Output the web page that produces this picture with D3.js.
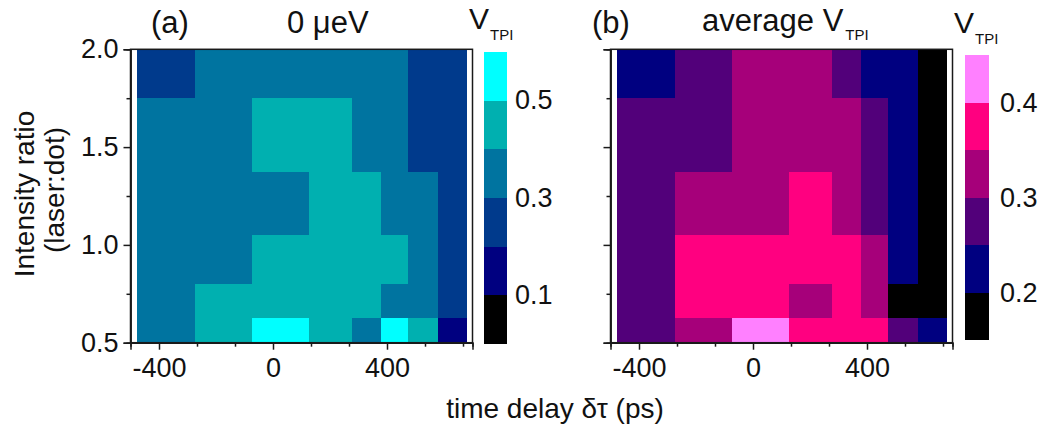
<!DOCTYPE html>
<html>
<head>
<meta charset="utf-8">
<script src="https://cdn.jsdelivr.net/npm/d3@7"></script>
<style>
  html, body { margin: 0; padding: 0; background: #fff; }
  svg { display: block; }
  text { font-family: "Liberation Sans", Arial, sans-serif; fill: #111; }
</style>
</head>
<body>
<svg id="chart" width="1045" height="427"></svg>
<script>
// ---- data ----
// time-delay bin edges (ps), shared by both panels
const delayEdges = [-478, -275, -72, 128, 276, 378, 475, 578, 680];
// intensity-ratio bin edges (laser:dot)
const ratioEdges = [0.5, 0.625, 0.8, 1.05, 1.375, 1.75, 2.0];

// panel (a) "0 µeV": rows listed from top (ratio 1.75–2.0) to bottom (0.5–0.625)
const vtpiZero = [
  [0.25, 0.35, 0.35, 0.35, 0.35, 0.35, 0.25, 0.25],
  [0.35, 0.35, 0.45, 0.45, 0.35, 0.35, 0.25, 0.25],
  [0.35, 0.35, 0.35, 0.45, 0.45, 0.35, 0.35, 0.25],
  [0.35, 0.35, 0.45, 0.45, 0.45, 0.45, 0.35, 0.25],
  [0.35, 0.45, 0.45, 0.45, 0.45, 0.35, 0.35, 0.25],
  [0.35, 0.45, 0.55, 0.45, 0.35, 0.55, 0.45, 0.15]
];
// panel (b) "average V_TPI"
const vtpiAverage = [
  [0.225, 0.275, 0.325, 0.325, 0.275, 0.225, 0.225, 0.175],
  [0.275, 0.275, 0.325, 0.325, 0.325, 0.275, 0.225, 0.175],
  [0.275, 0.325, 0.325, 0.375, 0.325, 0.275, 0.225, 0.175],
  [0.275, 0.375, 0.375, 0.375, 0.375, 0.325, 0.225, 0.175],
  [0.275, 0.375, 0.375, 0.325, 0.375, 0.325, 0.175, 0.175],
  [0.275, 0.325, 0.425, 0.375, 0.375, 0.375, 0.275, 0.225]
];

// colour bins
const binsA = [0.0, 0.1, 0.2, 0.3, 0.4, 0.5, 0.6];
const colorsA = ["#000000", "#000080", "#003a8c", "#0074a0", "#00b0b0", "#00ffff"];
const binsB = [0.15, 0.2, 0.25, 0.3, 0.35, 0.4, 0.45];
const colorsB = ["#000000", "#000080", "#52007a", "#a6007a", "#ff0080", "#ff80ff"];

// tick values
const xMajorTicks = [-400, 0, 400];
const xMinorTicks = [-266.67, -133.33, 133.33, 266.67, 533.33, 666.67];
const yMajorTicks = [0.5, 1.0, 1.5, 2.0];
const yMinorTicks = [0.75, 1.25, 1.75];
const cbTicksA = [0.1, 0.3, 0.5];
const cbTicksB = [0.2, 0.3, 0.4];

// ---- drawing ----
const svg = d3.select("#chart");
const FS = 27;      // tick labels
const FT = 31;      // titles
const FA = 28;      // axis titles
const axisColor = "#1a1a1a";

function panel(opts) {
  const g = svg.append("g");
  const x = d3.scaleLinear().domain([-500, 700]).range([opts.x0, opts.x0 + 342]);
  const y = d3.scaleLinear().domain([0.5, 2.0]).range([342.7, 49.3]);
  const color = d3.scaleThreshold().domain(opts.bins.slice(1, -1)).range(opts.colors);

  const cells = [];
  const nRows = opts.values.length;
  opts.values.forEach((row, ri) => {
    const r = nRows - 1 - ri; // index from bottom
    row.forEach((v, ci) => {
      cells.push({ x0: delayEdges[ci], x1: delayEdges[ci + 1], y0: ratioEdges[r], y1: ratioEdges[r + 1], v });
    });
  });
  g.append("g").selectAll("rect").data(cells).join("rect")
    .attr("x", d => x(d.x0))
    .attr("y", d => y(d.y1))
    .attr("width", d => x(d.x1) - x(d.x0) + 0.5)
    .attr("height", d => y(d.y0) - y(d.y1) + 0.5)
    .attr("fill", d => color(d.v))
    .attr("shape-rendering", "crispEdges");

  // frame
  g.append("rect")
    .attr("x", x.range()[0]).attr("y", y.range()[1])
    .attr("width", x.range()[1] - x.range()[0])
    .attr("height", y.range()[0] - y.range()[1])
    .attr("fill", "none").attr("stroke", axisColor).attr("stroke-width", 1.5);

  // x axis major
  const xa = g.append("g").attr("transform", `translate(0,${y.range()[0]})`)
    .call(d3.axisBottom(x).tickValues(xMajorTicks).tickSize(7).tickPadding(8).tickFormat(d3.format("d")));
  const xm = g.append("g").attr("transform", `translate(0,${y.range()[0]})`)
    .call(d3.axisBottom(x).tickValues(xMinorTicks).tickSize(4).tickFormat(""));
  // y axis
  const ya = g.append("g").attr("transform", `translate(${x.range()[0]},0)`)
    .call(d3.axisLeft(y).tickValues(yMajorTicks).tickSize(7).tickPadding(5)
      .tickFormat(opts.yLabels ? d3.format(".1f") : ""));
  const ym = g.append("g").attr("transform", `translate(${x.range()[0]},0)`)
    .call(d3.axisLeft(y).tickValues(yMinorTicks).tickSize(4).tickFormat(""));
  [xa, xm, ya, ym].forEach(a => {
    a.select(".domain").attr("stroke", axisColor).attr("stroke-width", 1.5);
    a.selectAll(".tick line").attr("stroke", axisColor).attr("stroke-width", 1.5);
    a.selectAll(".tick text").attr("font-size", FS).attr("fill", "#111")
      .attr("font-family", "Liberation Sans, Arial, sans-serif");
  });
  xa.selectAll(".tick text").text(d => d < 0 ? "-" + Math.abs(d) : d);

  // colour bar
  const cb = opts.cb;
  const cy = d3.scaleLinear().domain([opts.bins[0], opts.bins[opts.bins.length - 1]]).range([cb.y1, cb.y0]);
  const segs = opts.colors.map((c, i) => ({ lo: opts.bins[i], hi: opts.bins[i + 1], c }));
  g.append("g").selectAll("rect").data(segs).join("rect")
    .attr("x", cb.x).attr("width", cb.w)
    .attr("y", d => cy(d.hi)).attr("height", d => cy(d.lo) - cy(d.hi) + 0.4)
    .attr("fill", d => d.c).attr("shape-rendering", "crispEdges");
  const ca = g.append("g").attr("transform", `translate(${cb.x + cb.w},0)`)
    .call(d3.axisRight(cy).tickValues(opts.cbTicks).tickSize(0).tickPadding(cb.pad).tickFormat(d3.format(".1f")));
  ca.select(".domain").remove();
  ca.selectAll(".tick text").attr("font-size", FS).attr("fill", "#111")
    .attr("font-family", "Liberation Sans, Arial, sans-serif");

  // colour bar heading V_TPI
  const h = g.append("text").attr("x", cb.hx).attr("y", cb.hy).attr("font-size", 30);
  h.append("tspan").text("V");
  h.append("tspan").attr("font-size", 15).attr("dy", 11).attr("dx", 1).text("TPI");

  // panel letter
  g.append("text").attr("x", opts.letterX).attr("y", 33).attr("font-size", FT).text(opts.letter);
  return { x, y, g };
}

const pa = panel({
  x0: 130.5, values: vtpiZero, bins: binsA, colors: colorsA, yLabels: true,
  cb: { x: 483.5, w: 23.5, y0: 51.7, y1: 343.3, pad: 8, hx: 469, hy: 29 },
  cbTicks: cbTicksA, letter: "(a)", letterX: 151
});
const pb = panel({
  x0: 610.5, values: vtpiAverage, bins: binsB, colors: colorsB, yLabels: false,
  cb: { x: 965, w: 24, y0: 55, y1: 340, pad: 11, hx: 954, hy: 33 },
  cbTicks: cbTicksB, letter: "(b)", letterX: 592
});

// panel titles
svg.append("text").attr("x", 287).attr("y", 33).attr("font-size", FT).text("0 \u03bceV");
const tb = svg.append("text").attr("x", 702).attr("y", 31).attr("font-size", FT);
tb.append("tspan").text("average V");
tb.append("tspan").attr("font-size", 15).attr("dy", 9).attr("dx", 2).text("TPI");

// axis titles
svg.append("text").attr("transform", "translate(34,194) rotate(-90)")
  .attr("text-anchor", "middle").attr("font-size", FA).text("Intensity ratio");
svg.append("text").attr("transform", "translate(64,190) rotate(-90)")
  .attr("text-anchor", "middle").attr("font-size", FA).text("(laser:dot)");
svg.append("text").attr("x", 555).attr("y", 418)
  .attr("text-anchor", "middle").attr("font-size", FA).text("time delay \u03b4\u03c4 (ps)");
</script>
</body>
</html>
